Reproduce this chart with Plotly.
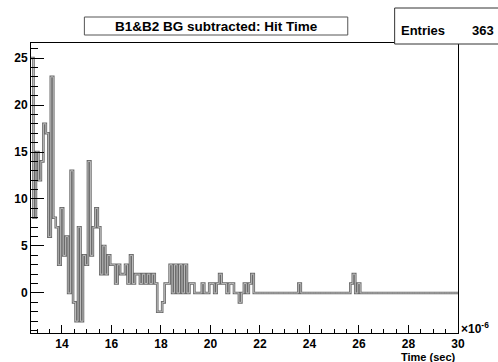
import numpy as np
import plotly.graph_objects as go

# ---- data (bin contents, 0.1 us bins starting at 12.75 us) ----
BIN_START_US = 12.75
BIN_WIDTH_US = 0.1
counts = [
    25, 8, 15, 12, 14, 18, 17, 6, 23, 8,
    7, 3, 9, 4, 6, 0, 13, -1, -3, 7,
    -3, 4, 3, 14, 4, 7, 9, 7, 2, 5,
    2, 4, 3, 3, 1, 3, 2, 2, 3, 1,
    4, 1, 2, 2, 1, 2, 1, 2, 1, 2,
    1, -2, -2, -1, 1, 1, 3, 0, 3, 0,
    3, 0, 3, 0, 1, 1, 0, 0, 0, 1,
    0, 0, 1, 1, 0, 1, 2, 1, 1, 0,
    1, 1, 0, 0, -1, 0, 1, 0, 1, 2,
    0, 0, 0, 0, 0, 0, 0, 0, 0, 0,
    0, 0, 0, 0, 0, 0, 0, 0, 1, 0,
    0, 0, 0, 0, 0, 0, 0, 0, 0, 0,
    0, 0, 0, 0, 0, 0, 0, 0, 0, 1,
    2, 0, 1, 0, 0, 0, 0, 0, 0, 0,
    0, 0, 0, 0, 0, 0, 0, 0, 0, 0,
    0, 0, 0, 0, 0, 0, 0, 0, 0, 0,
    0, 0, 0, 0, 0, 0, 0, 0, 0, 0,
    0, 0, 0,
]
title_text = "B1&B2 BG subtracted: Hit Time"
entries_label = "Entries"
entries_value = "363"
x_title = "Time (sec)"
x_exponent = "×10<sup>-6</sup>"
x_ticks = [14, 16, 18, 20, 22, 24, 26, 28, 30]
y_ticks = [0, 5, 10, 15, 20, 25]

edges = BIN_START_US + BIN_WIDTH_US * np.arange(len(counts) + 1)
yvals = list(counts) + [counts[-1]]

W, H = 498, 362
L, R, T, B = 30.5, 458.5, 43, 333
pw, ph = R - L, B - T


def px(x):
    return (x - L) / pw


def py(y):
    return (B - y) / ph


FONT = "Liberation Sans"

fig = go.Figure()
fig.add_trace(go.Scatter(x=edges, y=yvals, mode="lines", line_shape="hv",
                         line=dict(color="#6a6a6a", width=2.6), hoverinfo="skip"))
fig.add_trace(go.Scatter(x=edges, y=yvals, mode="lines", line_shape="hv",
                         line=dict(color="#bdbdbd", width=1), hoverinfo="skip"))

fig.update_layout(
    width=W, height=H,
    margin=dict(l=L, r=W - R, t=T, b=H - B, pad=0),
    paper_bgcolor="white", plot_bgcolor="white",
    showlegend=False,
    font=dict(family=FONT, size=12, color="black", weight="bold"),
)
fig.update_xaxes(
    range=[12.75, 30.0], tickmode="array", tickvals=x_ticks,
    ticktext=[str(v) for v in x_ticks],
    ticks="inside", ticklen=8, tickwidth=1, tickcolor="black",
    minor=dict(dtick=0.5, tick0=0, ticks="inside", ticklen=4, tickcolor="black", tickwidth=1),
    showline=True, linecolor="black", linewidth=1, mirror=True,
    showgrid=False, zeroline=False,
    tickfont=dict(family=FONT, size=12, weight="bold"),
)
fig.update_yaxes(
    range=[-4.26, 26.6], tickmode="array", tickvals=y_ticks,
    ticktext=[str(v) for v in y_ticks],
    ticks="inside", ticklen=13, tickwidth=1, tickcolor="black",
    minor=dict(dtick=1, tick0=0, ticks="inside", ticklen=6.5, tickcolor="black", tickwidth=1),
    showline=True, linecolor="black", linewidth=1, mirror=True,
    showgrid=False, zeroline=False,
    tickfont=dict(family=FONT, size=12, weight="bold"),
)

# title box
fig.add_shape(type="rect", xref="paper", yref="paper",
              x0=px(84), x1=px(348), y0=py(35), y1=py(17),
              line=dict(color="#555555", width=1), fillcolor="white", layer="above")
fig.add_annotation(xref="paper", yref="paper", x=px(216.5), y=py(26.5),
                   text=title_text, showarrow=False,
                   font=dict(family=FONT, size=13.5, weight="bold"),
                   xanchor="center", yanchor="middle")
# stats box
fig.add_shape(type="rect", xref="paper", yref="paper",
              x0=px(395), x1=px(505), y0=py(44), y1=py(8),
              line=dict(color="#333333", width=1), fillcolor="white", layer="above")
fig.add_annotation(xref="paper", yref="paper", x=px(399), y=py(30),
                   text=entries_label, showarrow=False,
                   font=dict(family=FONT, size=13, weight="bold"),
                   xanchor="left", yanchor="middle")
fig.add_annotation(xref="paper", yref="paper", x=px(497), y=py(30),
                   text=entries_value, showarrow=False,
                   font=dict(family=FONT, size=13, weight="bold"),
                   xanchor="right", yanchor="middle")
# axis title and exponent
fig.add_annotation(xref="paper", yref="paper", x=px(458), y=py(356.5),
                   text=x_title, showarrow=False,
                   font=dict(family=FONT, size=11, weight="bold"),
                   xanchor="right", yanchor="middle")
fig.add_annotation(xref="paper", yref="paper", x=px(460), y=py(327.5),
                   text=x_exponent, showarrow=False,
                   font=dict(family=FONT, size=12, weight="bold"),
                   xanchor="left", yanchor="middle")

fig.write_html("out.html", config={"displayModeBar": False},
               post_script="document.body.style.margin='0';document.body.style.padding='0';")
